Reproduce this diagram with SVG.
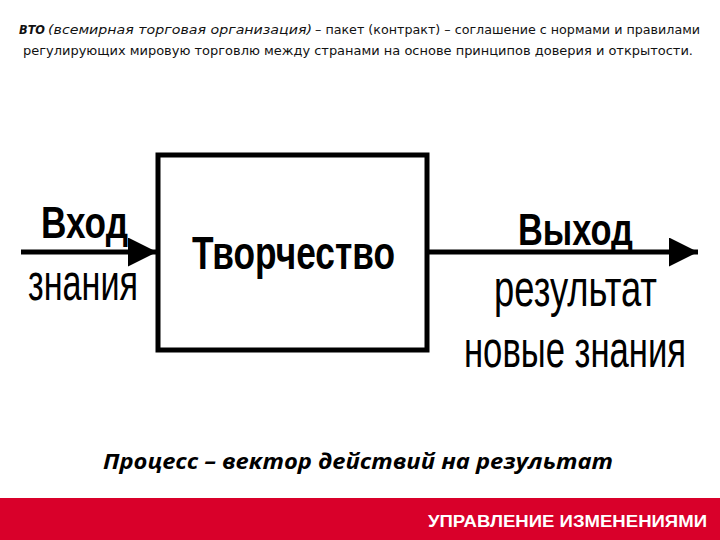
<svg xmlns="http://www.w3.org/2000/svg" width="720" height="540" viewBox="0 0 720 540">
<style>
.hdr{font-family:"DejaVu Sans","Liberation Sans",sans-serif;font-size:12.5px;fill:#111}
.big{font-family:"Liberation Sans",Arial,sans-serif;fill:#000}
.b{font-weight:bold}
.proc{font-family:"Open Sans","Liberation Sans",sans-serif;font-weight:bold;font-style:italic;font-size:22px;fill:#000}
.foot{font-family:"Liberation Sans",Arial,sans-serif;font-weight:bold;font-size:16px;fill:#fff}
.conn{stroke:#000;stroke-width:5;fill:none}
</style>
<defs>
<marker id="ah" viewBox="0 0 29 29" refX="29" refY="14.5" markerWidth="29" markerHeight="29" markerUnits="userSpaceOnUse" orient="auto">
<path d="M0,0 L29,14.5 L0,29 Z" fill="#000"/>
</marker>
</defs>
<rect width="720" height="540" fill="#fff"/>
<g id="header">
<text class="hdr b" x="19" y="34" textLength="26" lengthAdjust="spacingAndGlyphs" font-style="italic">ВТО</text>
<text class="hdr" x="48" y="34" textLength="264" lengthAdjust="spacingAndGlyphs" font-style="italic">(всемирная торговая организация)</text>
<text class="hdr" x="315" y="34" textLength="385" lengthAdjust="spacingAndGlyphs">– пакет (контракт) – соглашение с нормами и правилами</text>
<text class="hdr" x="23" y="55" textLength="670" lengthAdjust="spacingAndGlyphs">регулирующих мировую торговлю между странами на основе принципов доверия и открытости.</text>
</g>
<g id="connectors">
<line class="conn" x1="21" y1="252" x2="157" y2="252" marker-end="url(#ah)"/>
<line class="conn" x1="428" y1="252" x2="698" y2="252" marker-end="url(#ah)"/>
</g>
<g id="node-tvorchestvo">
<rect x="158" y="155" width="269" height="195" fill="none" stroke="#000" stroke-width="5"/>
<text class="big b" transform="translate(192,269) scale(0.77,1)" font-size="47" textLength="263.6" lengthAdjust="spacingAndGlyphs">Творчество</text>
</g>
<g id="input-labels">
<text class="big b" transform="translate(41,238) scale(0.78,1)" font-size="45" textLength="111.5" lengthAdjust="spacingAndGlyphs">Вход</text>
<text class="big" transform="translate(28,300) scale(0.68,1)" font-size="52" textLength="161.8" lengthAdjust="spacingAndGlyphs">знания</text>
</g>
<g id="output-labels">
<text class="big b" transform="translate(518,245) scale(0.78,1)" font-size="45" textLength="147.4" lengthAdjust="spacingAndGlyphs">Выход</text>
<text class="big" transform="translate(494,306) scale(0.68,1)" font-size="52" textLength="239.7" lengthAdjust="spacingAndGlyphs">результат</text>
<text class="big" transform="translate(464,367) scale(0.68,1)" font-size="52" textLength="326.5" lengthAdjust="spacingAndGlyphs">новые знания</text>
</g>
<text class="proc" x="103" y="469" textLength="510" lengthAdjust="spacingAndGlyphs">Процесс – вектор действий на результат</text>
<rect x="0" y="498" width="720" height="42" fill="#D9002A"/>
<text class="foot" x="428" y="527" textLength="279" lengthAdjust="spacingAndGlyphs">УПРАВЛЕНИЕ ИЗМЕНЕНИЯМИ</text>
</svg>
